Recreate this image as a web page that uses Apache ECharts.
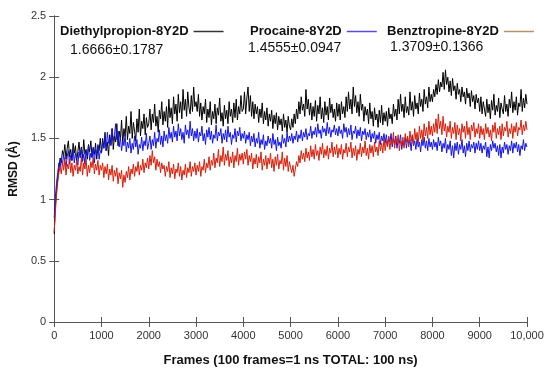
<!DOCTYPE html>
<html>
<head>
<meta charset="utf-8">
<script src="https://cdn.jsdelivr.net/npm/echarts@6/dist/echarts.min.js"></script>
<style>html,body{margin:0;padding:0;background:#fff}#c{width:550px;height:375px}</style>
</head>
<body>
<div id="c"></div>
<script>
// Frames sampled every 25 frames, 0..10000
const frameStep = 25;
const seriesNames = ['Diethylpropion-8Y2D', 'Procaine-8Y2D', 'Benztropine-8Y2D'];
const seriesStats = ['1.6666±0.1787', '1.4555±0.0947', '1.3709±0.1366'];
const xTicks = [0, 1000, 2000, 3000, 4000, 5000, 6000, 7000, 8000, 9000, 10000];
const yTicks = [0, 0.5, 1, 1.5, 2, 2.5];

const diethylpropion = [
0.72,0.95,1.08,1.18,1.26,1.34,1.30,1.40,1.36,1.45,
1.33,1.42,1.48,1.35,1.41,1.32,1.46,1.38,1.44,1.31,
1.39,1.47,1.36,1.43,1.34,1.49,1.37,1.41,1.33,1.45,
1.39,1.48,1.35,1.42,1.37,1.46,1.33,1.44,1.40,1.50,
1.38,1.50,1.42,1.55,1.40,1.47,1.36,1.53,1.45,1.58,
1.41,1.52,1.47,1.62,1.44,1.56,1.49,1.65,1.46,1.58,
1.52,1.68,1.49,1.60,1.54,1.72,1.50,1.63,1.56,1.48,
1.66,1.55,1.74,1.52,1.64,1.58,1.70,1.53,1.67,1.59,
1.62,1.74,1.57,1.70,1.63,1.78,1.60,1.68,1.55,1.73,
1.66,1.80,1.61,1.72,1.64,1.76,1.59,1.82,1.67,1.75,
1.62,1.84,1.70,1.78,1.64,1.86,1.71,1.80,1.66,1.90,
1.73,1.82,1.68,1.88,1.75,1.70,1.85,1.72,1.92,1.76,
1.80,1.72,1.86,1.68,1.79,1.65,1.76,1.70,1.82,1.63,
1.74,1.67,1.80,1.61,1.72,1.66,1.78,1.62,1.75,1.69,
1.83,1.64,1.71,1.60,1.77,1.66,1.73,1.62,1.80,1.68,
1.74,1.63,1.79,1.67,1.82,1.65,1.76,1.70,1.85,1.72,
1.74,1.88,1.70,1.83,1.92,1.72,1.85,1.68,1.80,1.66,
1.78,1.70,1.76,1.63,1.74,1.67,1.79,1.62,1.72,1.65,
1.75,1.60,1.70,1.64,1.73,1.58,1.69,1.62,1.71,1.57,
1.68,1.61,1.66,1.56,1.70,1.59,1.65,1.55,1.68,1.60,
1.57,1.66,1.59,1.70,1.62,1.74,1.66,1.80,1.70,1.84,
1.73,1.78,1.68,1.90,1.74,1.82,1.69,1.79,1.65,1.76,
1.68,1.81,1.64,1.77,1.70,1.84,1.66,1.75,1.63,1.80,
1.69,1.76,1.65,1.83,1.71,1.78,1.67,1.74,1.64,1.79,
1.68,1.78,1.65,1.80,1.70,1.76,1.67,1.84,1.72,1.88,
1.74,1.82,1.70,1.92,1.76,1.85,1.71,1.80,1.68,1.86,
1.73,1.78,1.64,1.76,1.69,1.74,1.62,1.79,1.66,1.72,
1.60,1.75,1.65,1.70,1.59,1.73,1.63,1.77,1.61,1.71,
1.64,1.72,1.60,1.75,1.66,1.70,1.62,1.78,1.68,1.74,
1.65,1.82,1.70,1.86,1.72,1.78,1.67,1.84,1.71,1.76,
1.69,1.88,1.73,1.80,1.68,1.85,1.74,1.79,1.70,1.87,
1.76,1.82,1.72,1.90,1.78,1.84,1.75,1.92,1.80,1.86,
1.80,1.90,1.84,1.94,1.86,1.98,1.88,1.96,1.92,2.04,
1.90,2.06,1.94,2.00,1.88,1.97,1.85,1.99,1.89,1.93,
1.82,1.95,1.86,1.90,1.80,1.92,1.84,1.88,1.78,1.91,
1.83,1.87,1.76,1.89,1.80,1.85,1.74,1.86,1.79,1.83,
1.72,1.84,1.70,1.80,1.74,1.68,1.82,1.71,1.78,1.66,
1.81,1.73,1.86,1.69,1.77,1.72,1.83,1.67,1.79,1.74,
1.70,1.85,1.72,1.78,1.68,1.82,1.75,1.88,1.71,1.80,
1.73,1.84,1.69,1.79,1.76,1.90,1.72,1.83,1.75,1.86,
1.78];

const procaine = [
0.85,1.02,1.14,1.22,1.30,1.26,1.34,1.28,1.37,1.31,
1.27,1.35,1.40,1.29,1.36,1.32,1.41,1.30,1.38,1.33,
1.28,1.39,1.34,1.42,1.31,1.37,1.29,1.40,1.35,1.44,
1.32,1.38,1.34,1.43,1.30,1.41,1.36,1.45,1.33,1.40,
1.38,1.47,1.42,1.52,1.40,1.55,1.46,1.50,1.44,1.58,
1.48,1.53,1.62,1.49,1.56,1.43,1.51,1.40,1.48,1.44,
1.53,1.39,1.47,1.42,1.50,1.38,1.46,1.41,1.52,1.43,
1.49,1.37,1.45,1.42,1.51,1.40,1.48,1.44,1.54,1.41,
1.46,1.52,1.41,1.49,1.44,1.55,1.42,1.50,1.47,1.57,
1.45,1.52,1.43,1.56,1.48,1.53,1.46,1.59,1.50,1.55,
1.47,1.60,1.51,1.56,1.48,1.62,1.52,1.58,1.49,1.55,
1.46,1.61,1.53,1.57,1.50,1.64,1.52,1.58,1.48,1.56,
1.50,1.58,1.47,1.55,1.52,1.60,1.48,1.54,1.45,1.57,
1.51,1.59,1.49,1.56,1.46,1.53,1.50,1.61,1.48,1.55,
1.52,1.58,1.46,1.54,1.49,1.57,1.47,1.60,1.51,1.55,
1.45,1.53,1.50,1.58,1.47,1.56,1.52,1.59,1.48,1.54,
1.50,1.56,1.46,1.53,1.49,1.55,1.44,1.52,1.47,1.54,
1.43,1.50,1.46,1.55,1.42,1.49,1.45,1.53,1.41,1.48,
1.44,1.52,1.46,1.50,1.42,1.54,1.45,1.49,1.40,1.51,
1.44,1.47,1.42,1.53,1.46,1.50,1.43,1.55,1.47,1.52,
1.48,1.54,1.46,1.52,1.49,1.56,1.47,1.53,1.50,1.57,
1.48,1.55,1.51,1.58,1.49,1.54,1.52,1.60,1.50,1.56,
1.53,1.59,1.51,1.62,1.54,1.57,1.50,1.60,1.55,1.58,
1.52,1.63,1.54,1.59,1.51,1.57,1.55,1.61,1.53,1.58,
1.52,1.60,1.54,1.57,1.50,1.62,1.55,1.59,1.51,1.58,
1.53,1.61,1.49,1.56,1.54,1.60,1.50,1.57,1.52,1.59,
1.48,1.56,1.53,1.58,1.49,1.55,1.51,1.57,1.47,1.54,
1.50,1.56,1.46,1.53,1.49,1.55,1.45,1.52,1.48,1.54,
1.46,1.53,1.44,1.51,1.47,1.54,1.43,1.50,1.45,1.52,
1.42,1.49,1.46,1.53,1.41,1.48,1.44,1.51,1.42,1.50,
1.45,1.49,1.40,1.52,1.44,1.48,1.41,1.50,1.43,1.47,
1.39,1.49,1.44,1.51,1.42,1.48,1.40,1.50,1.43,1.47,
1.41,1.49,1.43,1.47,1.40,1.51,1.44,1.48,1.39,1.46,
1.42,1.50,1.38,1.45,1.41,1.48,1.36,1.44,1.34,1.46,
1.40,1.47,1.37,1.45,1.41,1.49,1.38,1.44,1.35,1.46,
1.40,1.48,1.39,1.45,1.42,1.47,1.38,1.46,1.41,1.48,
1.40,1.46,1.38,1.44,1.41,1.47,1.35,1.43,1.34,1.45,
1.40,1.48,1.42,1.46,1.39,1.44,1.36,1.45,1.34,1.43,
1.38,1.47,1.41,1.45,1.37,1.44,1.40,1.48,1.38,1.46,
1.42,1.47,1.39,1.45,1.36,1.44,1.41,1.49,1.40,1.46,
1.43];

const benztropine = [
0.74,0.90,1.04,1.14,1.22,1.27,1.21,1.31,1.24,1.33,
1.20,1.29,1.25,1.34,1.22,1.30,1.19,1.28,1.24,1.32,
1.21,1.27,1.23,1.35,1.20,1.30,1.25,1.33,1.19,1.28,
1.22,1.31,1.26,1.34,1.21,1.29,1.24,1.32,1.20,1.28,
1.24,1.30,1.18,1.27,1.21,1.29,1.16,1.25,1.20,1.28,
1.15,1.24,1.19,1.26,1.13,1.22,1.17,1.24,1.10,1.20,
1.14,1.23,1.18,1.27,1.16,1.25,1.21,1.29,1.19,1.27,
1.23,1.31,1.20,1.28,1.24,1.33,1.22,1.30,1.26,1.34,
1.25,1.36,1.28,1.40,1.30,1.35,1.24,1.33,1.27,1.31,
1.22,1.30,1.25,1.28,1.19,1.27,1.23,1.31,1.18,1.26,
1.21,1.29,1.17,1.25,1.22,1.30,1.19,1.27,1.16,1.24,
1.20,1.29,1.18,1.26,1.22,1.31,1.19,1.27,1.23,1.30,
1.20,1.28,1.23,1.31,1.19,1.27,1.24,1.33,1.22,1.30,
1.26,1.35,1.24,1.32,1.28,1.38,1.26,1.34,1.30,1.41,
1.27,1.36,1.31,1.43,1.28,1.37,1.32,1.40,1.27,1.35,
1.30,1.39,1.26,1.36,1.31,1.42,1.28,1.37,1.32,1.38,
1.29,1.39,1.33,1.41,1.28,1.36,1.31,1.38,1.25,1.34,
1.29,1.37,1.26,1.35,1.30,1.39,1.24,1.33,1.28,1.36,
1.25,1.34,1.29,1.38,1.26,1.33,1.23,1.35,1.28,1.37,
1.25,1.32,1.29,1.39,1.24,1.34,1.27,1.36,1.23,1.31,
1.26,1.22,1.28,1.19,1.25,1.31,1.27,1.36,1.30,1.40,
1.33,1.38,1.31,1.42,1.34,1.39,1.32,1.44,1.35,1.41,
1.33,1.45,1.36,1.40,1.32,1.43,1.37,1.46,1.34,1.41,
1.36,1.44,1.33,1.42,1.38,1.47,1.35,1.43,1.37,1.45,
1.34,1.42,1.37,1.45,1.33,1.41,1.38,1.46,1.35,1.43,
1.39,1.47,1.34,1.42,1.36,1.44,1.32,1.41,1.37,1.46,
1.35,1.43,1.38,1.48,1.36,1.42,1.33,1.45,1.38,1.44,
1.35,1.47,1.39,1.43,1.36,1.48,1.40,1.46,1.38,1.50,
1.40,1.48,1.43,1.52,1.41,1.49,1.45,1.55,1.42,1.50,
1.46,1.53,1.40,1.48,1.44,1.51,1.42,1.54,1.47,1.52,
1.43,1.56,1.48,1.53,1.45,1.58,1.49,1.55,1.46,1.60,
1.50,1.57,1.48,1.62,1.52,1.59,1.50,1.64,1.53,1.60,
1.52,1.62,1.55,1.66,1.54,1.70,1.58,1.64,1.53,1.68,
1.56,1.62,1.51,1.60,1.55,1.64,1.50,1.59,1.54,1.63,
1.49,1.61,1.53,1.58,1.48,1.62,1.55,1.60,1.50,1.64,
1.53,1.59,1.49,1.61,1.56,1.63,1.51,1.58,1.54,1.62,
1.50,1.60,1.53,1.58,1.49,1.62,1.54,1.59,1.51,1.57,
1.48,1.61,1.55,1.63,1.50,1.58,1.53,1.60,1.49,1.62,
1.52,1.59,1.56,1.64,1.51,1.58,1.54,1.62,1.50,1.60,
1.55,1.63,1.52,1.59,1.57,1.65,1.53,1.61,1.56,1.64,
1.57];

const lineColors = ['#000000', '#1414e6', '#d81e0a'];
const legendLineColors = ['#333333', '#5a4ae0', '#b8906a'];

function pairs(arr) { return arr.map((v, i) => [i * frameStep, v]); }

const chart = echarts.init(document.getElementById('c'), null, {renderer: 'canvas'});
const axisLine = {show: true, lineStyle: {color: '#555', width: 1}};
const tickFont = {color: '#333', fontSize: 11, fontFamily: 'Liberation Sans, Arial, sans-serif'};

const legendLefts = [60, 250, 387];
const statLefts = [70, 248, 390];
const statTops = [43, 41, 40];

chart.setOption({
  animation: false,
  backgroundColor: '#fff',
  grid: {left: 48, right: 23, top: 16, bottom: 53, containLabel: false},
  legend: seriesNames.map((n, i) => ({
    data: [{name: n, icon: 'rect', itemStyle: {color: legendLineColors[i], borderWidth: 0},
            lineStyle: {color: legendLineColors[i]}}],
    itemStyle: {color: legendLineColors[i], borderWidth: 0},
    left: legendLefts[i], top: 25, padding: 0, align: 'right', itemWidth: 30, itemHeight: 1.5, itemGap: 4,
    textStyle: {fontSize: 13, fontWeight: 'bold', color: '#111', fontFamily: 'Liberation Sans, Arial, sans-serif'},
    selectedMode: false
  })),
  graphic: seriesStats.map((s, i) => ({
    type: 'text', left: statLefts[i], top: statTops[i],
    style: {text: s, fontSize: 14, fill: '#111', fontFamily: 'Liberation Sans, Arial, sans-serif'}
  })),
  xAxis: [
    {type: 'value', min: xTicks[0], max: xTicks[xTicks.length - 1], interval: 1000, position: 'bottom',
     axisLine: axisLine, axisTick: {show: true, inside: true, length: 5, lineStyle: {color: '#555'}},
     axisLabel: Object.assign({margin: 8, formatter: v => v === 10000 ? '10,000' : String(v)}, tickFont),
     splitLine: {show: false},
     name: 'Frames (100 frames=1 ns TOTAL: 100 ns)', nameLocation: 'middle', nameGap: 32,
     nameTextStyle: {fontSize: 13, fontWeight: 'bold', color: '#111', fontFamily: 'Liberation Sans, Arial, sans-serif'}},
    {type: 'value', min: xTicks[0], max: xTicks[xTicks.length - 1], interval: 1000, position: 'top',
     axisLine: axisLine, axisTick: {show: true, inside: true, length: 5, lineStyle: {color: '#555'}},
     axisLabel: {show: false}, splitLine: {show: false}}
  ],
  yAxis: [
    {type: 'value', min: yTicks[0], max: yTicks[yTicks.length - 1], interval: 0.5, position: 'left',
     axisLine: axisLine, axisTick: {show: true, inside: true, length: 5, lineStyle: {color: '#555'}},
     axisLabel: Object.assign({margin: 8}, tickFont),
     splitLine: {show: false},
     name: 'RMSD (Å)', nameLocation: 'middle', nameGap: 30,
     nameTextStyle: {fontSize: 12, fontWeight: 'bold', color: '#111', fontFamily: 'Liberation Sans, Arial, sans-serif'}},
    {type: 'value', min: yTicks[0], max: yTicks[yTicks.length - 1], interval: 0.5, position: 'right',
     axisLine: axisLine, axisTick: {show: true, inside: true, length: 5, lineStyle: {color: '#555'}},
     axisLabel: {show: false}, splitLine: {show: false}}
  ],
  series: [diethylpropion, procaine, benztropine].map((d, i) => ({
    name: seriesNames[i], type: 'line', data: pairs(d), symbol: 'none', showSymbol: false,
    xAxisIndex: 0, yAxisIndex: 0,
    lineStyle: {color: lineColors[i], width: 1}, itemStyle: {color: lineColors[i]},
    emphasis: {disabled: true}
  }))
});
</script>
</body>
</html>
